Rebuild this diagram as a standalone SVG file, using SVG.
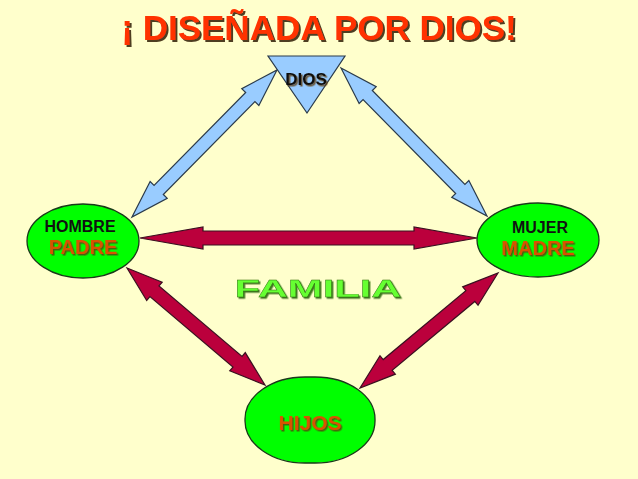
<svg xmlns="http://www.w3.org/2000/svg" width="638" height="479" viewBox="0 0 638 479">
<defs>
<filter id="sh" x="-10%" y="-20%" width="130%" height="150%"><feDropShadow dx="2" dy="2" stdDeviation="0.4" flood-color="#3a2a10" flood-opacity="0.9"/></filter>
<filter id="sh1" x="-10%" y="-20%" width="130%" height="150%"><feDropShadow dx="1.5" dy="1.5" stdDeviation="0.3" flood-color="#5a3a10" flood-opacity="0.8"/></filter>
<filter id="shg" x="-10%" y="-20%" width="130%" height="150%"><feDropShadow dx="1.5" dy="1.5" stdDeviation="0.4" flood-color="#2d6a10" flood-opacity="0.9"/></filter>
</defs>
<style>
.bg{fill:#FFFFCC}
.node{fill:#00FF00;stroke:#1a3a1a;stroke-width:1.3}
.blue{fill:#99CCFF;stroke:#2a3a4a;stroke-width:1.2;stroke-linejoin:miter}
.red{fill:#BB003C;stroke:#3a1020;stroke-width:1.2}
.t{font-family:"Liberation Sans",Arial,sans-serif;font-weight:bold;text-anchor:middle}
.blk{fill:#111}
.org{fill:#D85200}
</style>
<rect class="bg" x="0" y="0" width="638" height="479"/>
<text class="t" x="319" y="40" font-size="35" fill="#FF3300" filter="url(#sh)">¡ DISEÑADA POR DIOS!</text>
<g id="connectors">
<polygon class="blue" transform="translate(132,217) rotate(-45.4)" points="0,0 38,-12 38,-6.5 168.5,-6.5 168.5,-12 206.5,0 168.5,12 168.5,6.5 38,6.5 38,12"/>
<polygon class="blue" transform="translate(341,68) rotate(45.4)" points="0,0 38,-12 38,-6.5 169.9,-6.5 169.9,-12 207.9,0 169.9,12 169.9,6.5 38,6.5 38,12"/>
<polygon class="red" transform="translate(140,238)" points="0,0 63,-11 63,-7 274,-7 274,-11 337,0 274,11 274,7 63,7 63,11"/>
<polygon class="red" transform="translate(127,268) rotate(40.3)" points="0,0 36,-12 36,-7 144.9,-7 144.9,-12 180.9,0 144.9,12 144.9,7 36,7 36,12"/>
<polygon class="red" transform="translate(498,273) rotate(140.2)" points="0,0 36,-12 36,-7 143.6,-7 143.6,-12 179.6,0 143.6,12 143.6,7 36,7 36,12"/>
</g>
<g id="dios">
<polygon class="blue" points="268,56 345,56 307,113"/>
<text class="t blk" x="306" y="85" font-size="17" filter="url(#sh1)">DIOS</text>
</g>
<g id="hombre">
<ellipse class="node" cx="83" cy="241" rx="56" ry="37"/>
<text class="t blk" x="80" y="232" font-size="16">HOMBRE</text>
<text class="t org" x="83" y="254" font-size="20" filter="url(#sh1)">PADRE</text>
</g>
<g id="mujer">
<ellipse class="node" cx="538" cy="240" rx="61" ry="37"/>
<text class="t blk" x="540" y="233" font-size="16">MUJER</text>
<text class="t org" x="538" y="255" font-size="20" filter="url(#sh1)">MADRE</text>
</g>
<g id="hijos">
<rect class="node" x="245" y="377" width="130" height="86" rx="60" ry="42"/>
<text class="t org" x="310" y="430" font-size="21" filter="url(#sh1)">HIJOS</text>
</g>
<text class="t" x="318" y="297" font-size="24" fill="#66FF33" stroke="#2d6a10" stroke-width="0.3" textLength="167" lengthAdjust="spacingAndGlyphs" filter="url(#shg)">FAMILIA</text>
</svg>
